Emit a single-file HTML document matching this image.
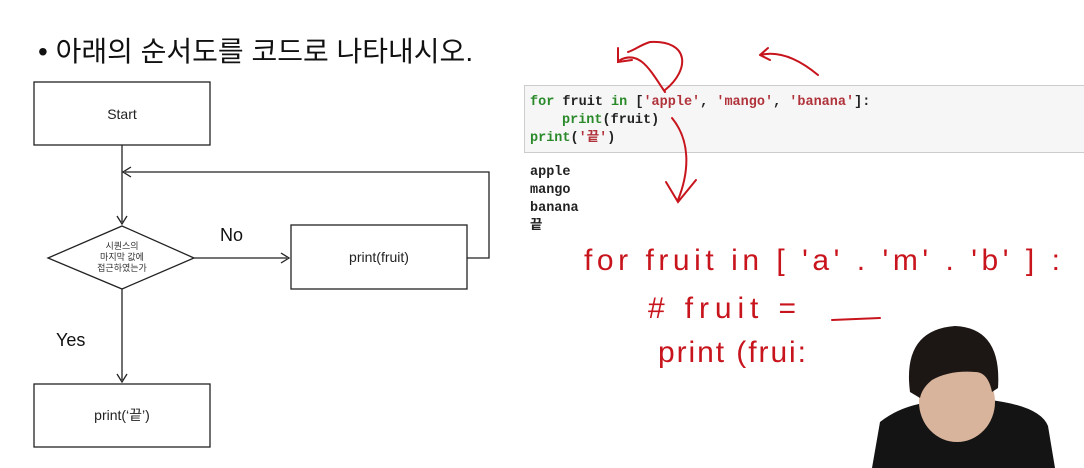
<!DOCTYPE html>
<html><head><meta charset="utf-8"><style>
html,body{margin:0;padding:0;background:#fff;width:1084px;height:468px;overflow:hidden}
</style></head><body>
<svg width="1084" height="468" viewBox="0 0 1084 468" xmlns="http://www.w3.org/2000/svg" font-family="Liberation Sans, 'Noto Sans CJK KR', sans-serif">
<rect width="1084" height="468" fill="#fff"/>
<text x="38" y="61" font-size="28" fill="#111">•  아래의 순서도를 코드로 나타내시오.</text>
<g stroke="#222" stroke-width="1.3" fill="#fff">
<rect x="34" y="82" width="176" height="63"/>
<polygon points="122,226 194,258 122,289 48,258"/>
<rect x="291" y="225" width="176" height="64"/>
<rect x="34" y="384" width="176" height="63"/>
<polyline points="122,145 122,222" fill="none"/>
<polyline points="194,258 287,258" fill="none"/>
<polyline points="467,258 489,258 489,172 125,172" fill="none"/>
<polyline points="122,289 122,380" fill="none"/>
<polyline points="117,216 122,224 127,216" fill="none"/>
<polyline points="281,253 289,258 281,263" fill="none"/>
<polyline points="131,167 123,172 131,177" fill="none"/>
<polyline points="117,374 122,382 127,374" fill="none"/>
</g>
<text x="122" y="119" font-size="14" text-anchor="middle" fill="#222">Start</text>
<text x="379" y="262" font-size="14" text-anchor="middle" fill="#222">print(fruit)</text>
<text x="122" y="420" font-size="14" text-anchor="middle" fill="#222">print(‘끝’)</text>
<text x="122" y="249" font-size="9" text-anchor="middle" fill="#333">시퀀스의</text>
<text x="122" y="260" font-size="9" text-anchor="middle" fill="#333">마지막 값에</text>
<text x="122" y="271" font-size="9" text-anchor="middle" fill="#333">접근하였는가</text>
<text x="220" y="241" font-size="18" fill="#111">No</text>
<text x="56" y="346" font-size="18" fill="#111">Yes</text>
<rect x="524.5" y="85.5" width="570" height="67" fill="#f6f6f6" stroke="#ccc"/>
<g font-family="Liberation Mono, 'Noto Sans CJK KR', monospace" font-size="13.5" font-weight="bold">
<text x="530" y="105"><tspan fill="#2a8a2a">for</tspan><tspan fill="#222"> fruit </tspan><tspan fill="#2a8a2a">in</tspan><tspan fill="#222"> [</tspan><tspan fill="#b0323a">'apple'</tspan><tspan fill="#222">, </tspan><tspan fill="#b0323a">'mango'</tspan><tspan fill="#222">, </tspan><tspan fill="#b0323a">'banana'</tspan><tspan fill="#222">]:</tspan></text>
<text x="562" y="123"><tspan fill="#2a8a2a">print</tspan><tspan fill="#222">(fruit)</tspan></text>
<text x="530" y="141"><tspan fill="#2a8a2a">print</tspan><tspan fill="#222">(</tspan><tspan fill="#b0323a">'끝'</tspan><tspan fill="#222">)</tspan></text>
<g fill="#222"><text x="530" y="175">apple</text><text x="530" y="193">mango</text><text x="530" y="211">banana</text><text x="530" y="229">끝</text></g>
</g>
<g stroke="#c8141c" stroke-width="2" fill="none" stroke-linecap="round">
<path d="M665,92 C650,70 640,50 620,60 M618,48 L618,62 L632,60"/>
<path d="M665,90 C690,70 690,40 650,42 C640,45 635,50 628,52"/>
<path d="M818,75 C800,60 780,50 760,55 M760,55 L768,48 M760,55 L770,60"/>
<path d="M672,118 C690,140 690,170 678,200 M666,182 L678,202 L696,180"/>
<path d="M832,320 L880,318"/>
</g>
<g fill="#c8141c" font-size="30">
<text x="584" y="270" textLength="476" lengthAdjust="spacing">for fruit   in  [ 'a' . 'm' . 'b' ] :</text>
<text x="648" y="318" textLength="148" lengthAdjust="spacing"># fruit =</text>
<text x="658" y="362" textLength="148" lengthAdjust="spacing">print (frui:</text>
</g>
<path d="M872,468 L880,422 Q900,406 930,402 L990,400 Q1040,406 1048,426 L1055,468 Z" fill="#141414"/>
<ellipse cx="957" cy="402" rx="38" ry="40" fill="#d9b49c"/>
<path d="M910,392 Q902,330 955,326 Q1002,328 998,388 L992,392 Q988,372 975,372 Q950,370 932,380 Q922,388 920,398 Z" fill="#1c1614"/>
</svg>
</body></html>
